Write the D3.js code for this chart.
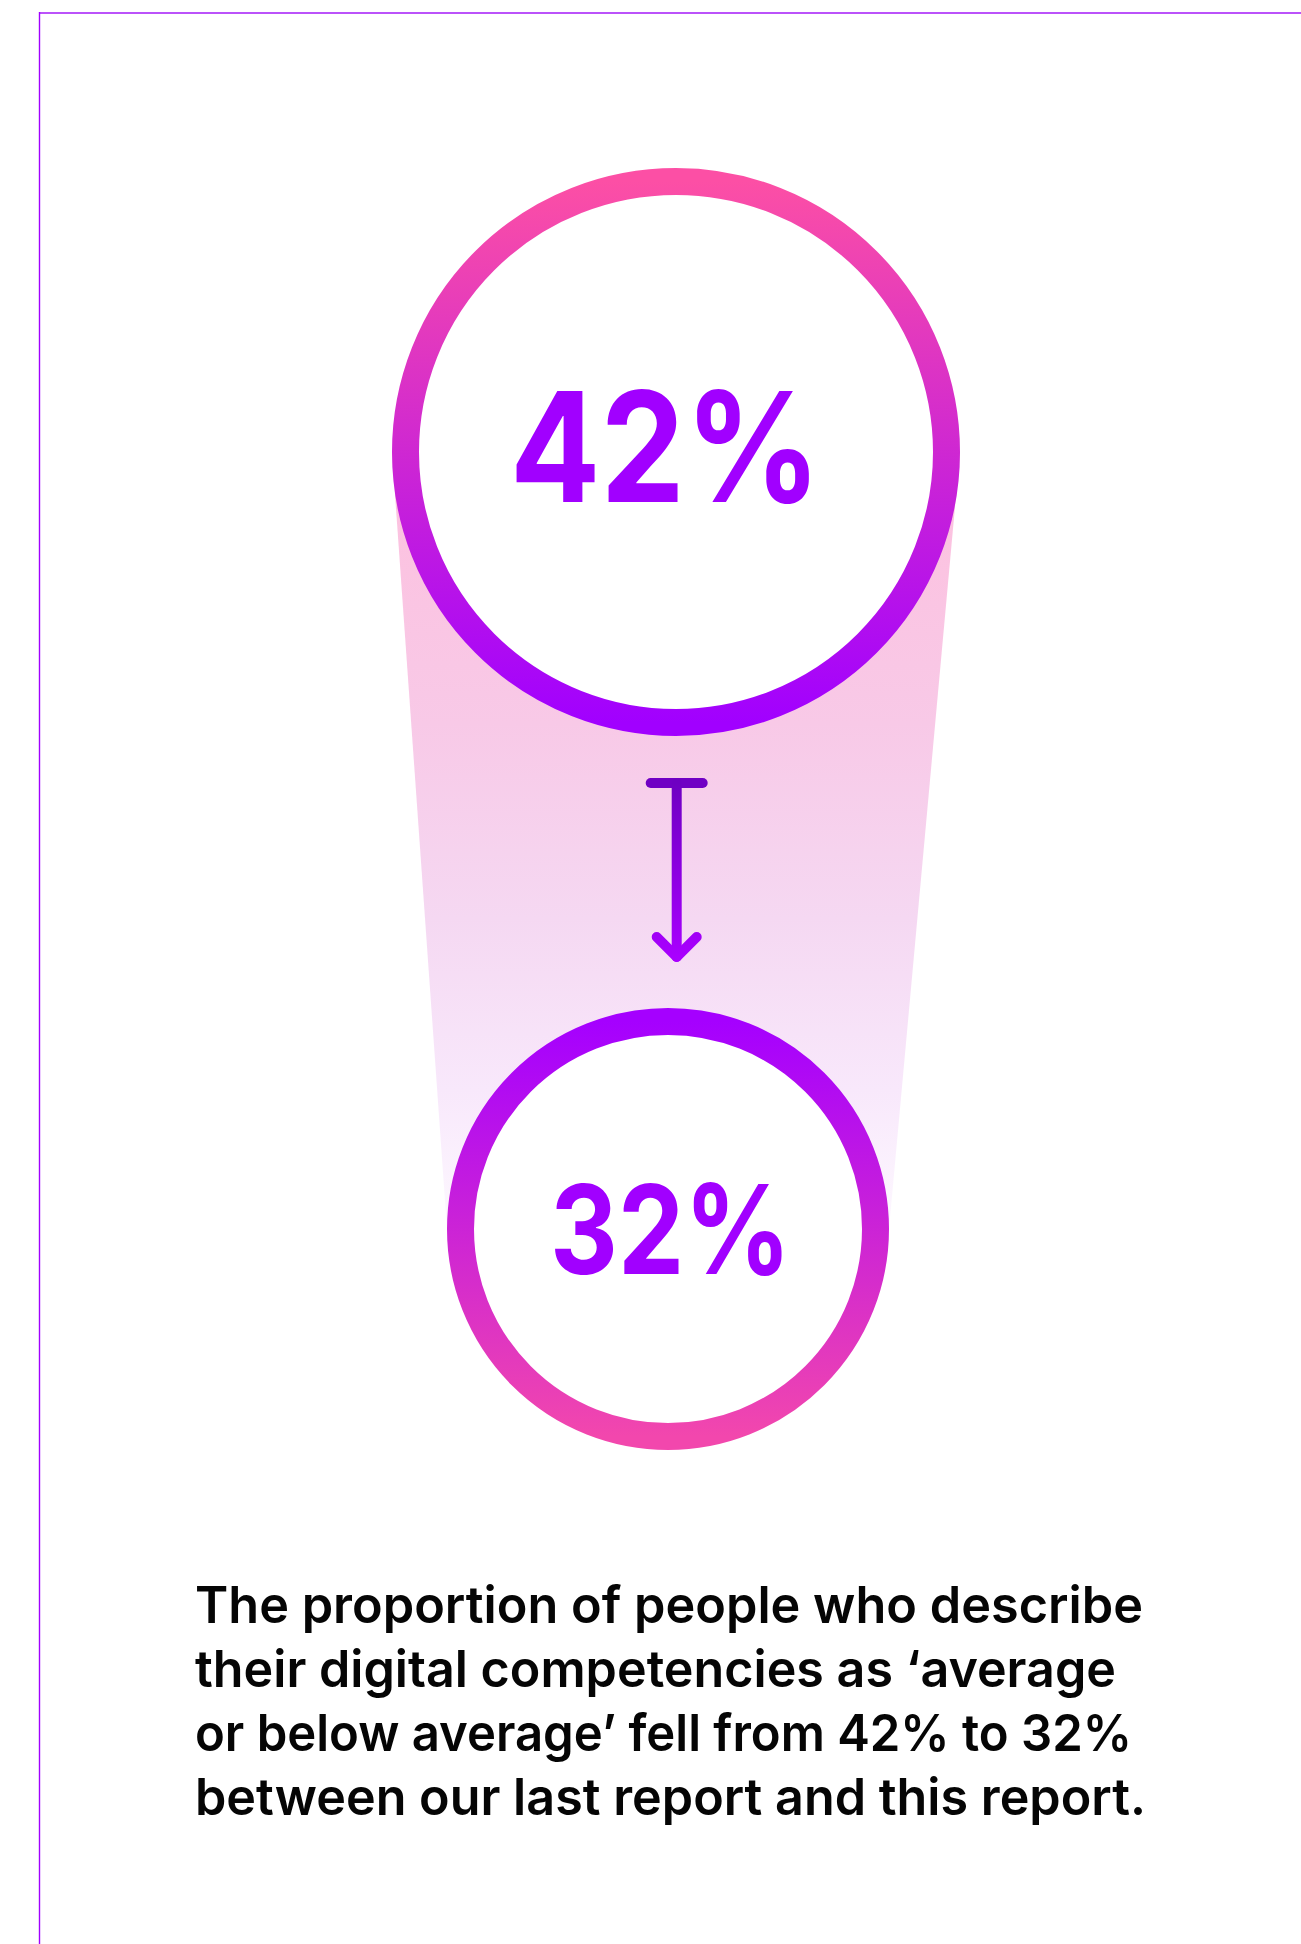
<!DOCTYPE html>
<html>
<head>
<meta charset="utf-8">
<script src="https://cdn.jsdelivr.net/npm/d3@7"></script>
<style>
  html, body { margin: 0; padding: 0; background: #ffffff; }
  svg { display: block; }
</style>
</head>
<body>
<svg id="chart" width="1301" height="1944"></svg>
<script>
// ---- data ----
const periods = ["Last report", "This report"];
const values = [42, 32];
const valueLabels = ["42%", "32%"];
const captionLines = [
  "The proportion of people who describe",
  "their digital competencies as \u2018average",
  "or below average\u2019 fell from 42% to 32%",
  "between our last report and this report."
];

// ---- layout ----
const W = 1301, H = 1944;
const svg = d3.select("#chart");
const defs = svg.append("defs");

const yPos = d3.scalePoint().domain(periods).range([452, 1229]);
const xPos = d3.scalePoint().domain(periods).range([676, 668]);
const rOuter = d3.scaleLinear().domain([32, 42]).range([221, 284]);
const ringW = 27;

const data = periods.map((p, i) => ({
  period: p, value: values[i], label: valueLabels[i],
  cx: xPos(p), cy: yPos(p), R: rOuter(values[i])
}));

// gradients
const bandGrad = defs.append("linearGradient").attr("id", "bandGrad")
  .attr("gradientUnits", "userSpaceOnUse")
  .attr("x1", 0).attr("x2", 0).attr("y1", data[0].cy).attr("y2", data[1].cy);
[[0, "#fdc0de"], [0.35, "#f8c9e7"], [0.6, "#f5d8f2"], [0.82, "#f8e8fb"], [1, "#fdf8ff"]]
  .forEach(([o, c]) => bandGrad.append("stop").attr("offset", o).attr("stop-color", c));

const ringGradTop = defs.append("linearGradient").attr("id", "ringTop")
  .attr("x1", 0).attr("x2", 0).attr("y1", 0).attr("y2", 1);
ringGradTop.append("stop").attr("offset", 0).attr("stop-color", "#fc4fa5");
ringGradTop.append("stop").attr("offset", 1).attr("stop-color", "#a100ff");

const ringGradBot = defs.append("linearGradient").attr("id", "ringBot")
  .attr("x1", 0).attr("x2", 0).attr("y1", 0).attr("y2", 1);
ringGradBot.append("stop").attr("offset", 0).attr("stop-color", "#a500ff");
ringGradBot.append("stop").attr("offset", 1).attr("stop-color", "#f247ad");

// frame
svg.append("line").attr("x1", 39.5).attr("x2", W).attr("y1", 13).attr("y2", 13)
  .attr("stroke", "#bb52fa").attr("stroke-width", 2);
svg.append("line").attr("x1", 39.5).attr("x2", 39.5).attr("y1", 12).attr("y2", H)
  .attr("stroke", "#a000ff").attr("stroke-width", 1.4);

// band connecting circles
const a = data[0], b = data[1];
const band = [[a.cx - a.R, a.cy], [a.cx + a.R, a.cy], [b.cx + b.R, b.cy], [b.cx - b.R, b.cy]];
svg.append("path")
  .attr("d", d3.line()(band) + "Z")
  .attr("fill", "url(#bandGrad)");

// rings
svg.selectAll("circle.ring").data(data).join("circle")
  .attr("class", "ring")
  .attr("cx", d => d.cx).attr("cy", d => d.cy)
  .attr("r", d => d.R - ringW / 2)
  .attr("fill", "#ffffff")
  .attr("stroke", (d, i) => i === 0 ? "url(#ringTop)" : "url(#ringBot)")
  .attr("stroke-width", ringW);

// value labels
const labelTargets = [
  { left: 510, width: 311, base: 502, capH: 111 },
  { left: 550, width: 241, base: 1274, capH: 90 }
];
svg.selectAll("text.val").data(data).join("text")
  .attr("class", "val")
  .attr("font-family", "Inter, 'Noto Sans', sans-serif")
  .attr("font-weight", 650)
  .attr("fill", "#a100ff")
  .text(d => d.label)
  .each(function (d, i) {
    const t = d3.select(this);
    const tg = labelTargets[i];
    const fs = tg.capH / 0.727;
    t.attr("font-size", fs)
      .attr("x", tg.left).attr("y", tg.base)
      .attr("textLength", tg.width).attr("lengthAdjust", "spacingAndGlyphs");
  });

// arrow
const arrowTop = a.cy + a.R + 47;
const arrowTip = b.cy - b.R - 49;
const ax = a.cx + 0.7;
const arrowGrad = defs.append("linearGradient").attr("id", "arrowGrad")
  .attr("gradientUnits", "userSpaceOnUse")
  .attr("x1", 0).attr("x2", 0).attr("y1", arrowTop).attr("y2", arrowTip);
arrowGrad.append("stop").attr("offset", 0).attr("stop-color", "#6e00c2");
arrowGrad.append("stop").attr("offset", 1).attr("stop-color", "#a900ff");

const ag = svg.append("g").attr("fill", "none").attr("stroke", "url(#arrowGrad)")
  .attr("stroke-width", 10).attr("stroke-linecap", "round").attr("stroke-linejoin", "round");
ag.append("path").attr("d", `M${ax - 26},${arrowTop}H${ax + 26}`).attr("stroke", "#7000c4");
ag.append("path").attr("d", `M${ax},${arrowTop}V${arrowTip - 2}`);
ag.append("path").attr("d", `M${ax - 20},${arrowTip - 22}L${ax},${arrowTip - 2}L${ax + 20},${arrowTip - 22}`);

// caption
const capBase = 1623, capStep = 64, capLeft = 195;
const cap = svg.append("g")
  .attr("font-family", "Inter, 'Noto Sans', sans-serif")
  .attr("font-weight", 560)
  .attr("fill", "#050505");
const lineRights = [1143, 1116, 1132, 1146];
cap.selectAll("text").data(captionLines).join("text")
  .attr("x", capLeft)
  .attr("y", (d, i) => capBase + i * capStep)
  .attr("font-size", 51)
  .text(d => d)
  .each(function (d, i) {
    d3.select(this).attr("textLength", lineRights[i] - capLeft).attr("lengthAdjust", "spacingAndGlyphs");
  });
</script>
</body>
</html>
